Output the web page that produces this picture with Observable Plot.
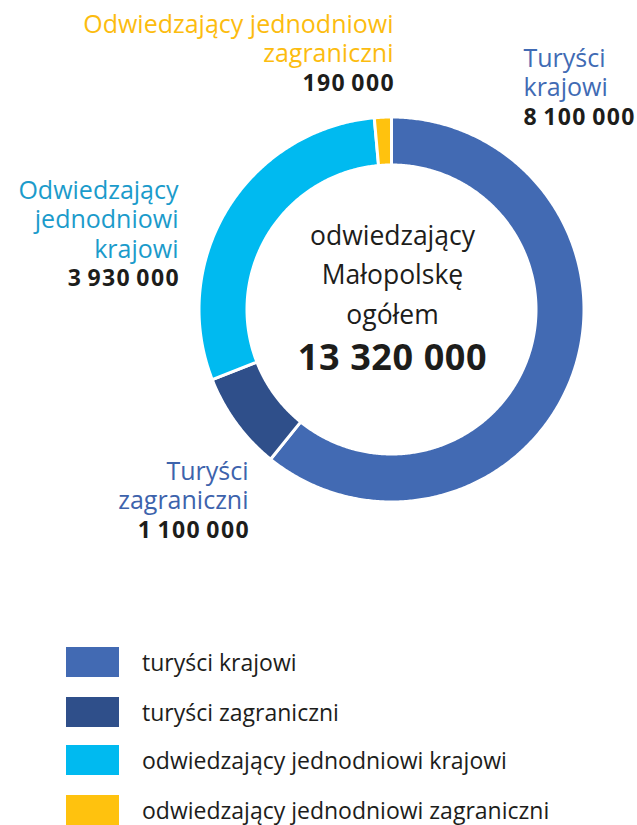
<!DOCTYPE html>
<html><head><meta charset="utf-8">
<script src="https://cdn.jsdelivr.net/npm/d3@7"></script>
<script src="https://cdn.jsdelivr.net/npm/@observablehq/plot@0.6"></script>
<style>
body{margin:0;background:#fff;font-family:"Open Sans",sans-serif;width:637px;}
#chart svg{display:block}
#chart g[font-weight="bold"][font-size^="23"] text{letter-spacing:1.4px}
#chart g[font-weight="bold"][font-size^="36"] text{letter-spacing:0.6px}
#legend{position:relative;height:205px;}
.row{position:absolute;left:66px;display:flex;align-items:center;height:30px}
.sw{width:53px;height:30px;flex:none}
.lt{margin-left:23px;font-size:23px;color:#1d1d1b;white-space:nowrap}
</style></head><body><div id="chart"></div><div id="legend"></div>
<script>
// ---- data ----
const categories = ["turyści krajowi", "turyści zagraniczni", "odwiedzający jednodniowi krajowi", "odwiedzający jednodniowi zagraniczni"];
const values = [8100000, 1100000, 3930000, 190000];
const labelNames = [["Turyści", "krajowi"], ["Turyści", "zagraniczni"], ["Odwiedzający", "jednodniowi", "krajowi"], ["Odwiedzający jednodniowi", "zagraniczni"]];
const centerLines = ["odwiedzający", "Małopolskę", "ogółem"];
const totalValue = 13320000;

// ---- styles / layout ----
const sliceColors = ["#426AB3", "#2F4F8A", "#00BAF0", "#FFC20E"];
const labelColors = ["#416BB4", "#3D63AC", "#1B9BCB", "#FCBC0F"];
const labelLayout = [
  {x: 523, y: 58, anchor: "start"},
  {x: 248, y: 471, anchor: "end"},
  {x: 178, y: 190, anchor: "end"},
  {x: 393, y: 24, anchor: "end"}
];
const W = 637, H = 620, cx = 391, cy = 309, rOuter = 192.5, rInner = 144.5;
const FONT = "Open Sans, sans-serif";
const fmt = v => d3.format(",")(v).replace(/,/g, "\u2009");
const fmtBig = v => d3.format(",")(v).replace(/,/g, " ");

const total = d3.sum(values);
const ring = [];
let acc = 0;
values.forEach((v, i) => {
  const a0 = acc / total * 2 * Math.PI; acc += v;
  const a1 = acc / total * 2 * Math.PI;
  const n = Math.max(2, Math.ceil((a1 - a0) / (Math.PI / 360)));
  for (let k = 0; k <= n; k++) { const a = a0 + (a1 - a0) * k / n; ring.push({cat: categories[i], color: sliceColors[i], x: cx + rOuter * Math.sin(a), y: cy - rOuter * Math.cos(a)}); }
  for (let k = n; k >= 0; k--) { const a = a0 + (a1 - a0) * k / n; ring.push({cat: categories[i], color: sliceColors[i], x: cx + rInner * Math.sin(a), y: cy - rInner * Math.cos(a)}); }
});

const LH = 29.5;
const nameLines = [], numLines = [];
categories.forEach((c, i) => {
  const L = labelLayout[i];
  labelNames[i].forEach((t, j) => nameLines.push({text: t, x: L.x, y: L.y + j * LH, anchor: L.anchor, color: labelColors[i]}));
  numLines.push({text: fmt(values[i]), x: L.anchor === "end" ? L.x + 1.5 : L.x, y: L.y + labelNames[i].length * LH, anchor: L.anchor});
});
const centerData = centerLines.map((t, j) => ({text: t, x: cx + 1, y: 236 + j * 39.5}));

const textMarks = [];
for (const anchor of ["start", "end"]) {
  textMarks.push(Plot.text(nameLines.filter(d => d.anchor === anchor), {x: "x", y: "y", text: "text", fill: "color", textAnchor: anchor, fontSize: 25, fontFamily: FONT}));
  textMarks.push(Plot.text(numLines.filter(d => d.anchor === anchor), {x: "x", y: "y", text: "text", fill: "#1d1d1b", textAnchor: anchor, fontSize: 23, fontWeight: "bold", fontFamily: FONT}));
}

const chart = Plot.plot({
  width: W, height: H, margin: 0,
  x: {domain: [0, W], range: [0, W], axis: null},
  y: {domain: [0, H], range: [0, H], axis: null},
  color: {type: "identity"},
  marks: [
    Plot.line(ring, {x: "x", y: "y", z: "cat", fill: "color", stroke: "#fff", strokeWidth: 3, curve: "linear-closed"}),
    ...textMarks,
    Plot.text(centerData, {x: "x", y: "y", text: "text", fill: "#1d1d1b", fontSize: 26.5, fontFamily: FONT}),
    Plot.text([{text: fmtBig(totalValue), x: cx + 1, y: 358}], {x: "x", y: "y", text: "text", fill: "#1d1d1b", fontSize: 36, fontWeight: "bold", fontFamily: FONT})
  ]
});
document.getElementById("chart").appendChild(chart);

const legend = document.getElementById("legend");
const rowTops = [27, 77, 125, 175];
categories.forEach((c, i) => {
  const r = document.createElement("div");
  r.className = "row"; r.style.top = rowTops[i] + "px";
  r.innerHTML = `<div class="sw" style="background:${sliceColors[i]}"></div><div class="lt">${c}</div>`;
  legend.appendChild(r);
});
</script></body></html>
